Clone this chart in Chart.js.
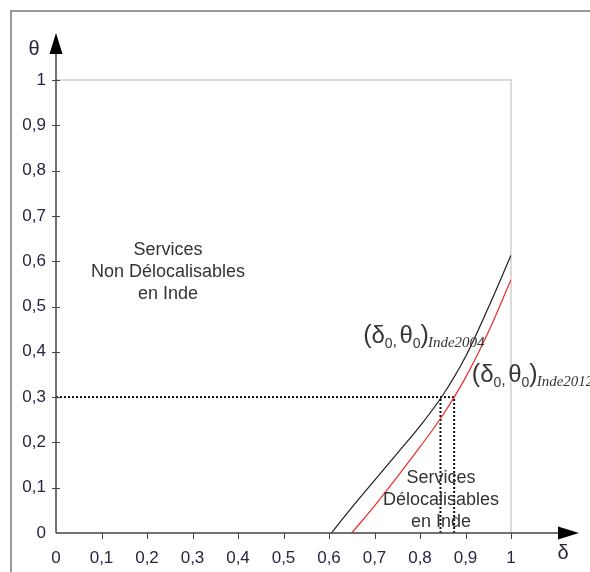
<!DOCTYPE html>
<html>
<head>
<meta charset="utf-8">
<script src="https://cdn.jsdelivr.net/npm/chart.js@4.4.1/dist/chart.umd.min.js"></script>
<style>
  html, body { margin: 0; padding: 0; background: #fff; }
  #wrap { width: 590px; height: 572px; }
</style>
</head>
<body>
<div id="wrap"><canvas id="chart" width="590" height="572"></canvas></div>
<script>
// frontier curves
const deltaBlack = [0.605, 0.65, 0.7, 0.75, 0.8, 0.85, 0.9, 0.95, 1.0];
const thetaBlack = [0, 0.056, 0.116, 0.176, 0.236, 0.304, 0.389, 0.497, 0.613];
const deltaRed = [0.65, 0.7, 0.75, 0.8, 0.85, 0.9, 0.95, 1.0];
const thetaRed = [0, 0.06, 0.124, 0.19, 0.26, 0.343, 0.443, 0.559];

// (delta0, theta0) points
const theta0 = 0.3;
const delta0Inde2004 = 0.845;
const delta0Inde2012 = 0.875;

// axis ticks
const tickValues = [0, 0.1, 0.2, 0.3, 0.4, 0.5, 0.6, 0.7, 0.8, 0.9, 1];
const tickLabels = ['0', '0,1', '0,2', '0,3', '0,4', '0,5', '0,6', '0,7', '0,8', '0,9', '1'];

const labelColor = '#262640';
const textColor = '#333';
const sans = 'Liberation Sans, Arial, sans-serif';

const pts = (xs, ys) => xs.map((x, i) => ({ x: x, y: ys[i] }));

const decor = {
    id: 'decor',
    beforeDraw(chart) {
        const c = chart.ctx, x = chart.scales.x, y = chart.scales.y;
        c.save();
        c.fillStyle = '#fff';
        c.fillRect(0, 0, chart.width, chart.height);
        // outer frame
        c.strokeStyle = '#777';
        c.lineWidth = 1.5;
        c.beginPath();
        c.moveTo(11, chart.height);
        c.lineTo(11, 11);
        c.lineTo(chart.width, 11);
        c.stroke();
        // light box of the unit square
        c.strokeStyle = '#cfcfcf';
        c.lineWidth = 1.5;
        c.beginPath();
        c.moveTo(x.getPixelForValue(0), y.getPixelForValue(1));
        c.lineTo(x.getPixelForValue(1), y.getPixelForValue(1));
        c.lineTo(x.getPixelForValue(1), y.getPixelForValue(0));
        c.stroke();
        c.restore();
    },
    afterDatasetsDraw(chart) {
        const c = chart.ctx, x = chart.scales.x, y = chart.scales.y;
        const x0 = x.getPixelForValue(0), y0 = y.getPixelForValue(0);
        c.save();
        // axes
        c.strokeStyle = '#444';
        c.lineWidth = 1.5;
        c.beginPath();
        c.moveTo(x0, y0);
        c.lineTo(x0, 50);
        c.moveTo(x0, y0);
        c.lineTo(562, y0);
        c.stroke();
        // arrow heads
        c.fillStyle = '#000';
        c.beginPath();
        c.moveTo(x0, 33);
        c.lineTo(x0 - 6.5, 54);
        c.lineTo(x0 + 6.5, 54);
        c.closePath();
        c.fill();
        c.beginPath();
        c.moveTo(579, y0);
        c.lineTo(558, y0 - 6.5);
        c.lineTo(558, y0 + 6.5);
        c.closePath();
        c.fill();
        // tick marks
        c.strokeStyle = '#444';
        c.lineWidth = 1;
        c.beginPath();
        tickValues.forEach(v => {
            if (v === 0) return;
            const py = Math.round(y.getPixelForValue(v)) + 0.5;
            c.moveTo(x0 - 4, py);
            c.lineTo(x0 + 4, py);
            const px = Math.round(x.getPixelForValue(v)) + 0.5;
            c.moveTo(px, y0);
            c.lineTo(px, y0 + 6);
        });
        c.stroke();
        // axis names
        c.fillStyle = labelColor;
        c.font = '20px ' + sans;
        c.textAlign = 'center';
        c.textBaseline = 'middle';
        c.fillText('θ', 34, 49);
        c.fillText('δ', 563, 553);

        // region labels
        c.fillStyle = textColor;
        c.font = '18px ' + sans;
        const block = (cx, cy, lines) => {
            const px = x.getPixelForValue(cx), py = y.getPixelForValue(cy);
            lines.forEach((t, i) => c.fillText(t, px, py + i * 22));
        };
        block(0.246, 0.625, ['Services', 'Non Délocalisables', 'en Inde']);
        block(0.846, 0.121, ['Services', 'Délocalisables', 'en Inde']);

        // (delta0, theta0) annotations
        const note = (dx, dy, sub) => {
            let px = x.getPixelForValue(dx);
            const py = y.getPixelForValue(dy);
            c.textAlign = 'left';
            c.textBaseline = 'alphabetic';
            c.fillStyle = '#3a3535';
            const put = (t, font, off) => {
                c.font = font;
                c.fillText(t, px, py + off);
                px += c.measureText(t).width;
            };
            put('(', '25px ' + sans, 0);
            put('δ', '24px ' + sans, 0);
            put('0', '14px ' + sans, 5);
            put(', ', '16px ' + sans, 3);
            px -= 2;
            put('θ', '24px ' + sans, 0);
            put('0', '14px ' + sans, 5);
            put(')', '25px ' + sans, 0);
            px -= 1;
            put(sub, 'italic 15px Liberation Serif, serif', 4);
        };
        note(0.675, 0.419, 'Inde2004');
        note(0.914, 0.333, 'Inde2012');
        c.restore();
    }
};

const lineStyle = { showLine: true, pointRadius: 0, fill: false };
const dotted = { showLine: true, pointRadius: 0, fill: false, borderColor: '#111', borderWidth: 2, borderDash: [2, 2] };

new Chart(document.getElementById('chart'), {
    type: 'scatter',
    data: {
        datasets: [
            { ...lineStyle, data: pts(deltaBlack, thetaBlack), borderColor: '#1e1e1e', borderWidth: 1.2, cubicInterpolationMode: 'monotone' },
            { ...lineStyle, data: pts(deltaRed, thetaRed), borderColor: '#ee2a2a', borderWidth: 1.2, cubicInterpolationMode: 'monotone' },
            { ...dotted, data: [{ x: 0, y: theta0 }, { x: delta0Inde2012, y: theta0 }] },
            { ...dotted, data: [{ x: delta0Inde2004, y: 0 }, { x: delta0Inde2004, y: theta0 }] },
            { ...dotted, data: [{ x: delta0Inde2012, y: 0 }, { x: delta0Inde2012, y: theta0 }] }
        ]
    },
    options: {
        responsive: false,
        animation: false,
        layout: { padding: { left: 10, top: 80, right: 79, bottom: 0 } },
        plugins: { legend: { display: false }, tooltip: { enabled: false } },
        scales: {
            x: {
                type: 'linear', min: 0, max: 1,
                afterBuildTicks: s => { s.ticks = tickValues.map(v => ({ value: v })); },
                afterFit: s => { s.height = 39; },
                ticks: { callback: (v, i) => tickLabels[i], font: { family: sans, size: 17 }, color: labelColor, padding: 7, maxRotation: 0, autoSkip: false },
                grid: { display: false },
                border: { display: false }
            },
            y: {
                type: 'linear', min: 0, max: 1,
                afterBuildTicks: s => { s.ticks = tickValues.map(v => ({ value: v })); },
                afterFit: s => { s.width = 46; },
                ticks: { callback: (v, i) => tickLabels[i], font: { family: sans, size: 17 }, color: labelColor, padding: 2, autoSkip: false },
                grid: { display: false },
                border: { display: false }
            }
        }
    },
    plugins: [decor]
});
</script>
</body>
</html>
